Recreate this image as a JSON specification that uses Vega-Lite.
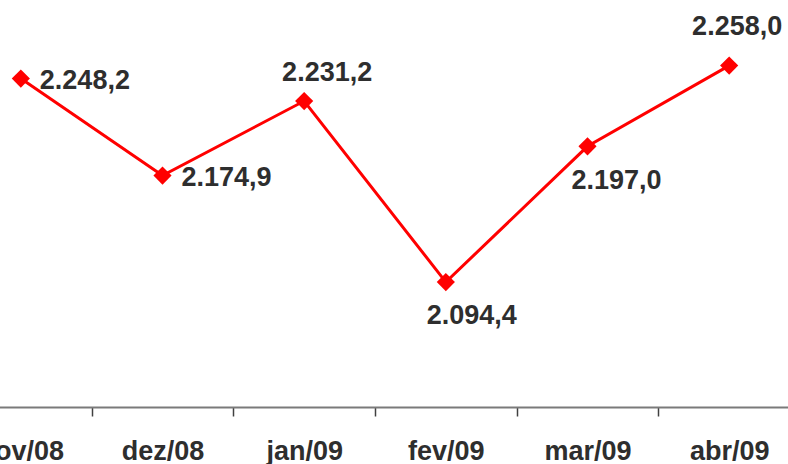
{
  "$schema": "https://vega.github.io/schema/vega-lite/v6.json",
  "autosize": "none",
  "width": 850,
  "height": 397,
  "padding": {"left": -50, "top": 10, "right": -12, "bottom": 57},
  "background": "white",
  "config": {
    "view": {"stroke": null},
    "font": "Liberation Sans"
  },
  "data": {
    "values": [
      {"mes": "nov/08", "valor": 2248.2, "rotulo": "2.248,2"},
      {"mes": "dez/08", "valor": 2174.9, "rotulo": "2.174,9"},
      {"mes": "jan/09", "valor": 2231.2, "rotulo": "2.231,2"},
      {"mes": "fev/09", "valor": 2094.4, "rotulo": "2.094,4"},
      {"mes": "mar/09", "valor": 2197.0, "rotulo": "2.197,0"},
      {"mes": "abr/09", "valor": 2258.0, "rotulo": "2.258,0"}
    ]
  },
  "encoding": {
    "x": {
      "field": "mes", "type": "nominal", "sort": null,
      "scale": {"paddingInner": 0, "paddingOuter": 0},
      "axis": {
        "title": null, "labelAngle": 0, "tickBand": "extent",
        "labelFont": "Liberation Sans", "labelFontSize": 27, "labelFontWeight": "bold",
        "labelColor": "#2e2e2e", "domainColor": "#7a7a7a", "domainWidth": 2,
        "tickColor": "#404040", "tickWidth": 1.5, "tickSize": 9, "labelPadding": 22,
        "labelOverlap": false, "labelBound": false, "labelFlush": false,
        "grid": false
      }
    },
    "y": {
      "field": "valor", "type": "quantitative",
      "scale": {"domain": [2000, 2300], "nice": false, "zero": false},
      "axis": null
    }
  },
  "layer": [
    {"mark": {"type": "line", "color": "#ff0000", "strokeWidth": 3}},
    {"mark": {"type": "point", "shape": "diamond", "filled": true, "color": "#ff0000", "size": 330, "opacity": 1}},
    {
      "transform": [{"filter": "datum.mes == 'nov/08' || datum.mes == 'dez/08'"}],
      "mark": {"type": "text", "align": "left", "baseline": "middle", "dx": 19, "dy": 2, "fontSize": 27, "fontWeight": "bold", "color": "#2e2e2e"},
      "encoding": {"text": {"field": "rotulo"}}
    },
    {
      "transform": [{"filter": "datum.mes == 'jan/09'"}],
      "mark": {"type": "text", "align": "center", "baseline": "middle", "dx": 23, "dy": -28, "fontSize": 27, "fontWeight": "bold", "color": "#2e2e2e"},
      "encoding": {"text": {"field": "rotulo"}}
    },
    {
      "transform": [{"filter": "datum.mes == 'fev/09'"}],
      "mark": {"type": "text", "align": "center", "baseline": "middle", "dx": 26, "dy": 34, "fontSize": 27, "fontWeight": "bold", "color": "#2e2e2e"},
      "encoding": {"text": {"field": "rotulo"}}
    },
    {
      "transform": [{"filter": "datum.mes == 'mar/09'"}],
      "mark": {"type": "text", "align": "center", "baseline": "middle", "dx": 29, "dy": 35, "fontSize": 27, "fontWeight": "bold", "color": "#2e2e2e"},
      "encoding": {"text": {"field": "rotulo"}}
    },
    {
      "transform": [{"filter": "datum.mes == 'abr/09'"}],
      "mark": {"type": "text", "align": "center", "baseline": "middle", "dx": 8, "dy": -39, "fontSize": 27, "fontWeight": "bold", "color": "#2e2e2e"},
      "encoding": {"text": {"field": "rotulo"}}
    }
  ]
}
